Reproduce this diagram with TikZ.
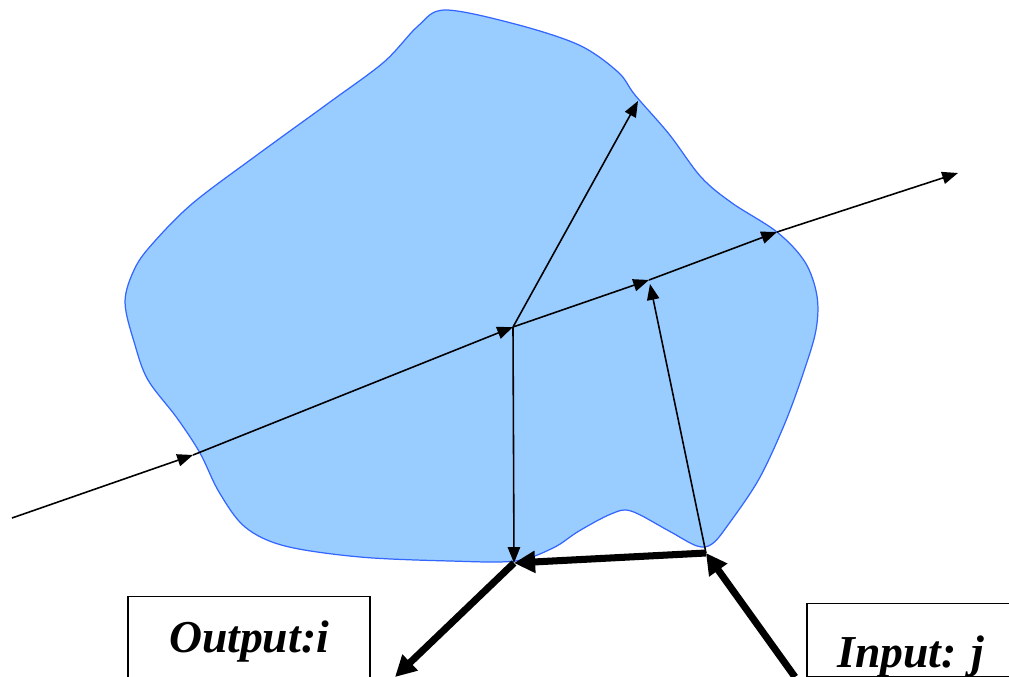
\documentclass[tikz,border=0pt]{standalone}
\usepackage{fontspec}
\setmainfont{Liberation Serif}
\usetikzlibrary{arrows.meta, positioning}
\definecolor{bodyblue}{RGB}{153,204,255}
\definecolor{edgeblue}{RGB}{51,102,255}

\begin{document}
\begin{tikzpicture}[x=0.02cm, y=-0.02cm,
  ray/.style={-{Triangle[length=9pt, width=7pt]}, line width=0.9pt},
  flow/.style={-{Triangle[length=12pt, width=12pt]}, line width=4pt},
  port/.style={rectangle, draw=black, line width=0.8pt, inner sep=0pt, anchor=north, font=\fontsize{26}{30}\selectfont\bfseries\itshape},
]
  \clip (0,0) rectangle (1009,677);

  % Body
  \draw[edgeblue, fill=bodyblue, line width=0.7pt] plot[smooth cycle, tension=0.55] coordinates {
    (445,10) (515,24) (579,45) (618,72) (635,95) (669,134) (701,177) (732,203)
    (777,232) (805,262) (817,296) (816,330) (804,371) (785,423) (759,479)
    (728,525) (712,544) (697,546) (669,531) (631,511) (611,514) (579,531)
    (553,548) (515,561) (450,561) (360,557) (285,546) (245,527) (219,492)
    (200,453) (177,418) (148,380) (135,345) (125,302) (135,268) (154,242)
    (193,203) (257,155) (330,102) (384,62) (418,26)};

  % Points
  \coordinate (start) at (12,518);
  \coordinate (p1) at (193,455);
  \coordinate (c) at (513,327);
  \coordinate (q) at (649,280);
  \coordinate (p3) at (777,232);
  \coordinate (end) at (958,173);
  \coordinate (tip) at (638,101);
  \coordinate (qin) at (650,284);
  \coordinate (o) at (514,563);
  \coordinate (r) at (706,553);
  \coordinate (outtip) at (395,677);
  \coordinate (intail) at (795,677);

  % Rays
  \draw[ray] (start) -- (p1);
  \draw[ray] (p1) -- (c);
  \draw[ray] (c) -- (q);
  \draw[ray] (q) -- (p3);
  \draw[ray] (p3) -- (end);
  \draw[ray] (c) -- (tip);
  \draw[ray] (c) -- (o);
  \draw[ray] (r) -- (qin);

  % Flows
  \draw[flow] (r) -- (o);
  \draw[flow] (o) -- (outtip);
  \draw[flow] (intail) -- (r);

  % Ports
  \node[port, minimum width=4.84cm, text height=1.12cm, text depth=0.6cm] (out) at (249,596) {Output:i};
  \node[port, minimum width=4.16cm, text height=1.28cm, text depth=0.18cm] (in) at (911,603) {Input: j};
\end{tikzpicture}
\end{document}
